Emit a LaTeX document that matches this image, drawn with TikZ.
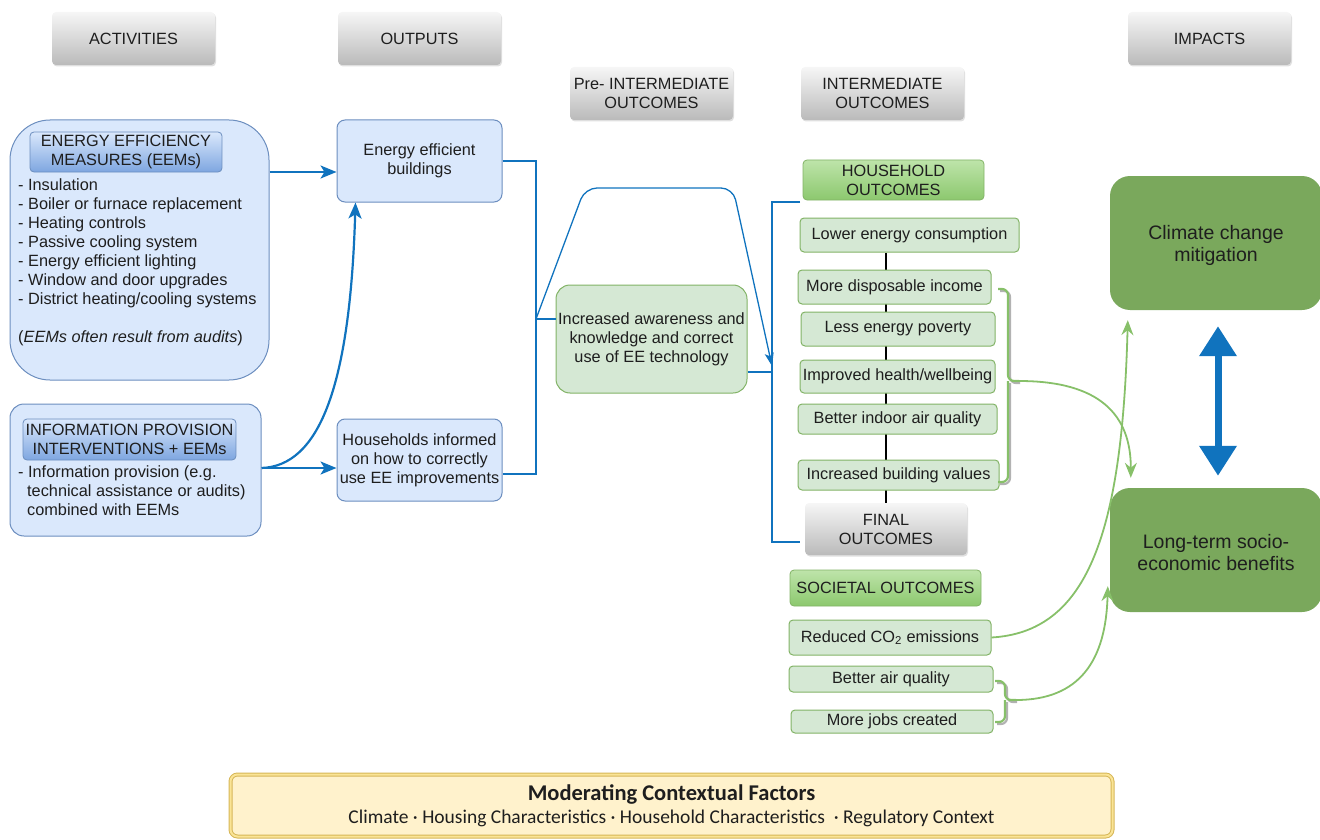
\documentclass[tikz,border=0pt]{standalone}
\usepackage{fontspec}
\setmainfont{Liberation Sans}
\newfontfamily\calibri{Carlito}
\usetikzlibrary{arrows.meta,shadows,backgrounds,calc}
\definecolor{eblue}{RGB}{16,115,190}
\definecolor{lbfill}{RGB}{218,232,252}
\definecolor{lbdraw}{RGB}{108,142,191}
\definecolor{lbdark}{RGB}{126,166,224}
\definecolor{lgfill}{RGB}{213,232,212}
\definecolor{lgdraw}{RGB}{130,179,102}
\definecolor{ghtop}{RGB}{190,228,170}
\definecolor{ghbot}{RGB}{140,200,110}
\definecolor{dgreen}{RGB}{122,168,92}
\definecolor{garrowc}{RGB}{135,192,105}
\definecolor{hdrtop}{RGB}{246,246,246}
\definecolor{hdrbot}{RGB}{186,186,186}
\definecolor{yfill}{RGB}{255,242,204}
\definecolor{ydraw}{RGB}{214,182,86}
\definecolor{ymid}{RGB}{250,228,150}
\definecolor{txt}{RGB}{30,30,30}
\tikzset{
  body/.style={font=\fontsize{16.3}{19}\selectfont, text=txt},
  hdr/.style={body, rounded corners=4pt, top color=hdrtop, bottom color=hdrbot, draw=none,
    drop shadow={opacity=0.25, shadow xshift=1pt, shadow yshift=-1.5pt},
    minimum width=163pt, minimum height=53pt, align=center},
  bluebox/.style={body, draw=lbdraw, fill=lbfill, rounded corners=8pt, line width=1pt, align=center},
  bhdr/.style={body, rounded corners=4pt, top color=lbfill, bottom color=lbdark, draw=lbdraw, line width=0.8pt, align=center, inner sep=1pt},
  greenbox/.style={body, draw=lgdraw, fill=lgfill, rounded corners=4pt, line width=1pt, align=center, inner sep=2pt},
  ghdr/.style={body, rounded corners=4pt, top color=ghtop, bottom color=ghbot, draw=lgdraw, line width=0.8pt, align=center, inner sep=2pt},
  impbox/.style={draw=none, fill=dgreen, rounded corners=20pt, align=center, text=txt, font=\fontsize{19.5}{21.5}\selectfont},
  bline/.style={draw=eblue, line width=2.2pt},
  barrow/.style={draw=eblue, line width=2.2pt, -{Stealth[length=16pt,width=13pt,inset=4pt]}},
  tarrow/.style={draw=eblue, line width=1.3pt, rounded corners=12pt, -{Stealth[length=13pt,width=9pt,inset=3pt]}},
  garrow/.style={draw=garrowc, line width=1.8pt, -{Stealth[length=15pt,width=12pt,inset=5pt]}},
  gbrace/.style={draw=garrowc, line width=2.2pt, rounded corners=6pt},
  gbshadow/.style={draw=black!30, line width=2.2pt, rounded corners=6pt},
  bigarrow/.style={draw=eblue, line width=7pt, {Triangle[length=30pt,width=36pt]}-{Triangle[length=30pt,width=36pt]}},
}
\begin{document}
\begin{tikzpicture}[x=1pt,y=-1pt]
\useasboundingbox (0,0) rectangle (1320,840);

% headers
\node[hdr] (act) at (133.5,38.5) {ACTIVITIES};
\node[hdr] (out) at (419.5,38.5) {OUTPUTS};
\node[hdr] (pre) at (651.5,93.5) {Pre- INTERMEDIATE\\OUTCOMES};
\node[hdr] (int) at (882.5,93.5) {INTERMEDIATE\\OUTCOMES};
\node[hdr] (imp) at (1209.5,38.5) {IMPACTS};

% activities
\node[bluebox, rounded corners=40pt, minimum width=259pt, minimum height=260pt] (eem) at (139.5,250) {};
\node[bhdr, minimum width=192pt, minimum height=40pt] (eemh) at (126,152) {ENERGY EFFICIENCY\\MEASURES (EEMs)};
\node[body, anchor=north west, align=left, inner sep=0pt] (eeml) at (18,178)
 {- Insulation\\- Boiler or furnace replacement\\- Heating controls\\- Passive cooling system\\- Energy efficient lighting\\- Window and door upgrades\\- District heating/cooling systems\\[19pt](\textit{EEMs often result from audits})};

\node[bluebox, rounded corners=14pt, minimum width=251pt, minimum height=132pt] (info) at (135.5,470) {};
\node[bhdr, minimum width=213pt, minimum height=41pt] (infoh) at (129.5,439.5) {INFORMATION PROVISION\\INTERVENTIONS + EEMs};
\node[body, anchor=north west, align=left, inner sep=0pt] (infol) at (18,465)
 {- Information provision (e.g.\\\hspace*{9pt}technical assistance or audits)\\\hspace*{9pt}combined with EEMs};

% outputs
\node[bluebox, minimum width=165pt, minimum height=82pt] (eeb) at (419.5,161) {Energy efficient\\buildings};
\node[bluebox, minimum width=165pt, minimum height=82pt, inner sep=1pt] (hhi) at (419.5,460) {Households informed\\on how to correctly\\use EE improvements};

\draw[barrow] ([yshift=-11pt]eeb.west -| eem.east) -- ([yshift=-11pt]eeb.west);
\draw[barrow] ([yshift=-8pt]hhi.west -| info.east) -- ([yshift=-8pt]hhi.west);
\draw[barrow] ([yshift=-8pt]hhi.west -| info.east) .. controls (318,466) and (350,390) .. ([xshift=-64pt]eeb.south);

% pre-intermediate
\node[greenbox, rounded corners=14pt, minimum width=191pt, minimum height=108pt] (iae) at (651.5,339) {Increased awareness and\\knowledge and correct\\use of EE technology};
\coordinate (bx) at (536,319);
\draw[bline] (eeb.east) -| (bx) |- ([yshift=-14pt]hhi.east);
\draw[bline] ([yshift=20pt]iae.west) -- ([yshift=20pt]iae.west -| bx);

\coordinate (rx) at (772,372);
\coordinate (rt) at (800,202);
\coordinate (rb) at (800,542);
\draw[bline] (rt) -| (rx) |- (rb);
\draw[bline] ([yshift=-33pt]iae.east) -- (rx);
\draw[tarrow] (bx) -- (585,188) -- (733,188) -- ([yshift=6pt]rx);

% household outcomes
\node[ghdr, minimum width=181pt, minimum height=40pt] (hho) at (893.5,180) {HOUSEHOLD\\OUTCOMES};
\node[greenbox, minimum width=219pt, minimum height=34pt] (lec) at (909.5,235) {Lower energy consumption};
\node[greenbox, minimum width=193pt, minimum height=34pt] (mdi) at (894.5,287) {More disposable income};
\node[greenbox, minimum width=194pt, minimum height=34pt] (lep) at (898,329) {Less energy poverty};
\node[greenbox, minimum width=195pt, minimum height=33pt] (ihw) at (897.5,376.5) {Improved health/wellbeing};
\node[greenbox, minimum width=199pt, minimum height=30pt] (bia) at (897.5,419) {Better indoor air quality};
\node[greenbox, minimum width=201pt, minimum height=30pt] (ibv) at (898.5,475) {Increased building values};
\node[hdr, minimum width=162pt, minimum height=52pt] (fin) at (886,529) {FINAL\\OUTCOMES};
\begin{pgfonlayer}{background}
\draw[line width=2.5pt, black] (fin.north |- lec.south) -- (fin.north);
\end{pgfonlayer}

% societal outcomes
\node[ghdr, minimum width=191pt, minimum height=36pt] (soc) at (885.5,588) {SOCIETAL OUTCOMES};
\node[greenbox, minimum width=202pt, minimum height=35pt] (co2) at (890,637.5) {Reduced CO\textsubscript{2} emissions};
\node[greenbox, minimum width=204pt, minimum height=26pt] (baq) at (891,679) {Better air quality};
\node[greenbox, minimum width=202pt, minimum height=23pt] (mjc) at (892,721.5) {More jobs created};

% impacts
\node[impbox, minimum width=212pt, minimum height=134pt] (ccm) at (1216,243) {\rule{0pt}{19pt}Climate change\\mitigation};
\node[impbox, minimum width=212pt, minimum height=124pt] (lt) at (1216,550) {\rule{0pt}{19pt}Long-term socio-\\economic benefits};
\draw[bigarrow] ([xshift=2pt,yshift=-16pt]ccm.south) -- ([xshift=2pt,yshift=12pt]lt.north);

% braces
\coordinate (hbt) at (1019,381);
\coordinate (sbt) at (1016,700);
\draw[gbshadow] (1000,291) -- (1010,291) -- (1010,383) -- (1020,383) (1010,383) -- (1010,484) -- (1000,484);
\draw[gbrace] (998,289) -- (1008,289) -- (1008,381) -- (hbt) (1008,381) -- (1008,482) -- (998,482);
\draw[gbshadow] (997,683) -- (1007,683) -- (1007,702) -- (1017,702) (1007,702) -- (1007,724) -- (997,724);
\draw[gbrace] (995,681) -- (1005,681) -- (1005,700) -- (sbt) (1005,700) -- (1005,722) -- (995,722);

\draw[garrow] (hbt) .. controls (1100,381) and (1131,415) .. ([xshift=21pt,yshift=10pt]lt.north west);
\draw[garrow] (co2.east) .. controls (1085,632) and (1122,540) .. ([xshift=18pt,yshift=-10pt]ccm.south west);
\draw[garrow] (sbt) .. controls (1080,700) and (1106,660) .. ([xshift=-2pt,yshift=26pt]lt.south west);

% moderating factors
\node[draw=ydraw, double=ymid, double distance=2pt, line width=1pt, fill=yfill, rounded corners=7pt,
  minimum width=882pt, minimum height=62pt, align=center, text=txt, font=\calibri] (mcf) at (671.5,805.5)
 {{\bfseries\fontsize{22.5}{24}\selectfont Moderating Contextual Factors}\\[5pt]
  {\fontsize{19.5}{22}\selectfont Climate · Housing Characteristics · Household Characteristics \ · Regulatory Context}};
\end{tikzpicture}
\end{document}
